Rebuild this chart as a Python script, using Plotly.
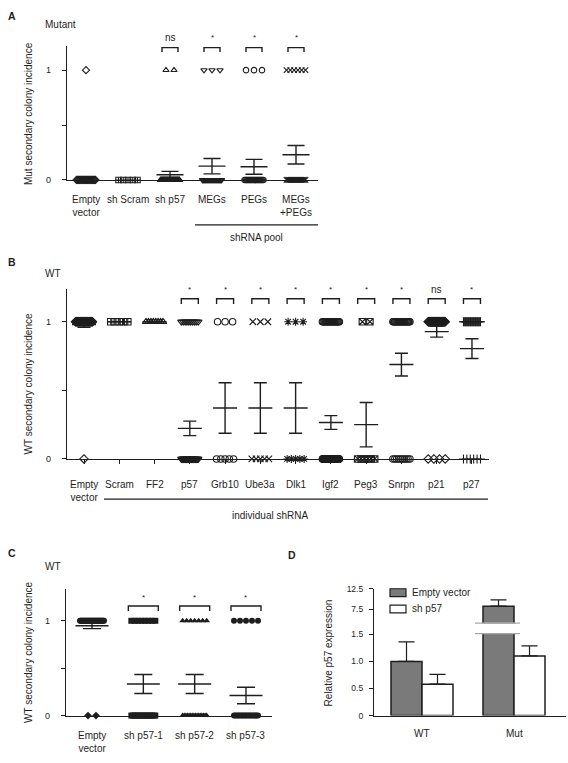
import plotly.graph_objects as go

W, H = 568, 763
def px(x): return x / W
def py(y): return 1 - y / H

FONT = "Liberation Sans, Arial, Helvetica, sans-serif"
INK = "#1e1e1e"

# ---------------- data ----------------
# Panel A (Mutant)
a_labels = ["Empty<br>vector", "sh Scram", "sh p57", "MEGs", "PEGs", "MEGs<br>+PEGs"]
a_n_one = [1, 0, 2, 3, 3, 6]
a_n_zero = [22, 5, 38, 21, 22, 20]
a_mean = [None, None, 0.048, 0.126, 0.12, 0.23]
a_sem = [None, None, 0.03, 0.07, 0.068, 0.084]
a_sig = ["", "", "ns", "*", "*", "*"]

# Panel B (WT, individual shRNA)
b_labels = ["Empty<br>vector", "Scram", "FF2", "p57", "Grb10", "Ube3a", "Dlk1",
            "Igf2", "Peg3", "Snrpn", "p21", "p27"]
b_n_one = [30, 5, 8, 10, 3, 3, 3, 21, 2, 22, 40, 25]
b_n_zero = [1, 0, 0, 35, 5, 5, 5, 58, 6, 10, 4, 6]
b_mean = [0.98, 1.0, 1.0, 0.223, 0.372, 0.372, 0.372, 0.266, 0.25, 0.688, 0.928, 0.804]
b_sem = [0.02, 0, 0, 0.053, 0.184, 0.184, 0.184, 0.05, 0.162, 0.083, 0.04, 0.072]
b_sig = ["", "", "", "*", "*", "*", "*", "*", "*", "*", "ns", "*"]

# Panel C (WT, sh p57 hairpins)
c_labels = ["Empty<br>vector", "sh p57-1", "sh p57-2", "sh p57-3"]
c_n_one = [40, 8, 7, 5]
c_n_zero = [2, 15, 16, 18]
c_mean = [0.948, 0.333, 0.333, 0.212]
c_sem = [0.031, 0.1, 0.1, 0.087]
c_sig = ["", "*", "*", "*"]

# Panel D (relative p57 expression)
d_groups = ["WT", "Mut"]
d_empty = [1.0, 8.3]
d_empty_sem = [0.36, 1.55]
d_shp57 = [0.58, 1.10]
d_shp57_sem = [0.18, 0.185]

# ---------------- styles ----------------
a_sym = ["diamond-open", "square-cross-open", "triangle-up-open", "triangle-down-open",
         "circle-open", "x-thin-open"]
b_sym = ["diamond-open", "square-cross-open", "triangle-up-open", "triangle-down-open",
         "circle-open", "x-thin-open", "asterisk-open", "circle-open", "square-x-open",
         "circle-open", "diamond-open", "cross-thin-open"]
c_sym_one = ["circle", "square", "triangle-up", "circle"]
c_sym_zero = ["diamond", "square", "triangle-up", "circle"]

fig = go.Figure()


def spread(n, step, maxw):
    if n <= 0:
        return []
    if n == 1:
        return [0.0]
    s = min(step, maxw / (n - 1))
    return [(k - (n - 1) / 2) * s for k in range(n)]


def add_dots(xa, ya, n_one, n_zero, sym_one, sym_zero, ppu, step, maxw, size):
    for i in range(len(n_one)):
        for level, n, sym in ((1, n_one[i], sym_one[i]), (0, n_zero[i], sym_zero[i])):
            offs = spread(n, step, maxw)
            if not offs:
                continue
            filled = not sym.endswith("open")
            fig.add_trace(go.Scatter(
                x=[i + o / ppu for o in offs], y=[level] * n, xaxis=xa, yaxis=ya,
                mode="markers", cliponaxis=False, hoverinfo="skip",
                marker=dict(symbol=sym, size=size, color=INK,
                            line=dict(color=INK, width=0 if filled else 1.1))))


def add_means(xa, ya, means, sems, ppu, mean_hw, cap_hw):
    xs, ys = [], []
    mh, ch = mean_hw / ppu, cap_hw / ppu
    for i, (m, s) in enumerate(zip(means, sems)):
        if m is None:
            continue
        xs += [i - mh, i + mh, None]
        ys += [m, m, None]
        if s:
            xs += [i, i, None, i - ch, i + ch, None, i - ch, i + ch, None]
            ys += [m - s, m + s, None, m + s, m + s, None, m - s, m - s, None]
    fig.add_trace(go.Scatter(x=xs, y=ys, xaxis=xa, yaxis=ya, mode="lines",
                             line=dict(color=INK, width=1.4), hoverinfo="skip"))


def add_brackets(xa, ya, sig, ppu, hw_px, y_top, y_leg, text_px):
    xs, ys = [], []
    h = hw_px / ppu
    for i, s in enumerate(sig):
        if not s:
            continue
        xs += [i - h, i - h, i + h, i + h, None]
        ys += [y_leg, y_top, y_top, y_leg, None]
        fig.add_annotation(x=i, y=py(text_px), xref=xa, yref="paper", text=s, showarrow=False,
                           yanchor="middle", xanchor="center",
                           font=dict(family=FONT, size=8 if s == "*" else 10, color=INK))
    fig.add_trace(go.Scatter(x=xs, y=ys, xaxis=xa, yaxis=ya, mode="lines",
                             line=dict(color=INK, width=1.4), hoverinfo="skip"))


def add_cat_labels(xa, labels, top_px):
    for i, t in enumerate(labels):
        fig.add_annotation(x=i, y=py(top_px), xref=xa, yref="paper", text=t,
                           showarrow=False, yanchor="top", xanchor="center",
                           font=dict(family=FONT, size=10, color=INK))


def text(x, y, t, size=10, bold=False, angle=0, xanchor="left"):
    fig.add_annotation(x=px(x), y=py(y), xref="paper", yref="paper",
                       text=f"<b>{t}</b>" if bold else t, showarrow=False,
                       textangle=angle, xanchor=xanchor, yanchor="middle",
                       font=dict(family=FONT, size=size, color=INK))


def hline(x0, x1, y, color=INK, width=1.3):
    fig.add_shape(type="line", xref="paper", yref="paper", x0=px(x0), x1=px(x1),
                  y0=py(y), y1=py(y), line=dict(color=color, width=width))


def xrange(left, right, first, spacing):
    return [-(first - left) / spacing, (right - first) / spacing]


def xaxis(left, right, rng, anchor, n, ticks=False):
    return dict(domain=[px(left), px(right)], range=rng, anchor=anchor, showline=True,
                linecolor=INK, linewidth=1.2, showgrid=False, zeroline=False,
                showticklabels=False, ticks="outside" if ticks else "", ticklen=4,
                tickwidth=1.2, tickcolor=INK, tickmode="array",
                tickvals=list(range(n)), fixedrange=True)


def yaxis(top, bot, rng, anchor, vals, txt, size=9, visible=True, standoff=9):
    return dict(domain=[py(bot), py(top)], range=rng, anchor=anchor, showline=visible,
                linecolor=INK, linewidth=1.2, showgrid=False, zeroline=False,
                ticks="outside", ticklen=4, tickwidth=1.2, tickcolor=INK,
                tickmode="array", tickvals=vals, ticktext=txt,
                tickfont=dict(family=FONT, size=size, color=INK),
                ticklabelstandoff=standoff, fixedrange=True)


# ---------------- Panel A ----------------
A_SP = 42.0
add_dots("x", "y", a_n_one, a_n_zero, a_sym, a_sym, A_SP, 8, 19, 5.5)
add_means("x", "y", a_mean, a_sem, A_SP, 13.5, 8.5)
add_brackets("x", "y", a_sig, A_SP, 8, 1.205, 1.165, 33)
add_cat_labels("x", a_labels, 189.5)

# ---------------- Panel B ----------------
B_SP = 35.27
add_dots("x2", "y2", b_n_one, b_n_zero, b_sym, b_sym, B_SP, 7.5, 17, 6.5)
add_means("x2", "y2", b_mean, b_sem, B_SP, 12, 6.5)
add_brackets("x2", "y2", b_sig, B_SP, 8.5, 1.168, 1.13, 288.5)
add_cat_labels("x2", b_labels, 478)

# ---------------- Panel C ----------------
C_SP = 51.33
add_dots("x3", "y3", c_n_one, c_n_zero, c_sym_one, c_sym_zero, C_SP, 8, 24, 6)
add_means("x3", "y3", c_mean, c_sem, C_SP, 16.5, 9)
add_brackets("x3", "y3", c_sig, C_SP, 15, 1.156, 1.104, 600.5)
add_cat_labels("x3", c_labels, 733)

# ---------------- Panel D ----------------
D_SP = 92.0
BW = 31 / D_SP
GREY = "#7a7a7a"
fig.add_trace(go.Bar(x=list(range(len(d_groups))), y=d_empty, xaxis="x4", yaxis="y4",
                     width=BW, offset=-BW, marker=dict(color=GREY, line=dict(color=INK, width=1.5)),
                     error_y=dict(type="data", symmetric=False,
                                  array=[d_empty_sem[0], None], arrayminus=[0, None],
                                  color=INK, thickness=1.2, width=8),
                     hoverinfo="skip"))
fig.add_trace(go.Bar(x=list(range(len(d_groups))), y=d_shp57, xaxis="x4", yaxis="y4",
                     width=BW, offset=0, marker=dict(color="white", line=dict(color=INK, width=1.5)),
                     error_y=dict(type="data", symmetric=False, array=d_shp57_sem,
                                  arrayminus=[0, 0], color=INK, thickness=1.2, width=8),
                     hoverinfo="skip"))
fig.add_trace(go.Bar(x=[1], y=[d_empty[1]], xaxis="x5", yaxis="y5",
                     width=BW, offset=-BW, marker=dict(color=GREY, line=dict(color=INK, width=1.5)),
                     error_y=dict(type="data", symmetric=False, array=[d_empty_sem[1]],
                                  arrayminus=[0], color=INK, thickness=1.2, width=8),
                     hoverinfo="skip"))
for i, g in enumerate(d_groups):
    fig.add_annotation(x=i, y=py(738), xref="x4", yref="paper", text=g, showarrow=False,
                       yanchor="middle", font=dict(family=FONT, size=10, color=INK))

# axis break on the Mut bar
fig.add_shape(type="rect", xref="x4", yref="paper", x0=0.61, x1=1.03, y0=py(636.5), y1=py(626.8),
              line=dict(width=0), fillcolor="white", layer="above")
for yb in (626.3, 637):
    fig.add_shape(type="line", xref="x4", yref="paper", x0=0.576, x1=1.065, y0=py(yb), y1=py(yb),
                  line=dict(color="#a8a8a8", width=1.3), layer="above")

# legend (D)
fig.add_shape(type="rect", xref="paper", yref="paper", x0=px(390), x1=px(406), y0=py(599.5), y1=py(591.5),
              fillcolor=GREY, line=dict(color=INK, width=1.2))
fig.add_shape(type="rect", xref="paper", yref="paper", x0=px(390), x1=px(406), y0=py(616), y1=py(608),
              fillcolor="white", line=dict(color=INK, width=1.2))
text(410, 595.5, "Empty vector")
text(410, 612, "sh p57")

# ---------------- panel texts ----------------
text(6, 11, "A", 10.5, bold=True)
text(43, 20, "Mutant")
text(28.5, 110, "Mut secondary colony incidence", angle=-90, xanchor="center")
hline(195, 318, 222.7)
text(256, 236, "shRNA pool", xanchor="center")

text(6, 260, "B", 10.5, bold=True)
text(43, 272, "WT")
text(28.5, 384, "WT secondary colony incidence", angle=-90, xanchor="center")
hline(104, 488, 500.7)
text(270, 517, "individual shRNA", xanchor="center")

text(6, 555, "C", 10.5, bold=True)
text(43, 569, "WT")
text(28.5, 656, "WT secondary colony incidence", angle=-90, xanchor="center")

text(286, 557, "D", 10.5, bold=True)
text(328.5, 656.5, "Relative p57 expression", angle=-90, xanchor="center")

# ---------------- layout ----------------
yt = [0, 0.5, 1]
ytt = ["0", "", "1"]
fig.update_layout(
    width=W, height=763, margin=dict(l=0, r=0, t=0, b=0),
    paper_bgcolor="white", plot_bgcolor="white", showlegend=False, barmode="overlay",
    font=dict(family=FONT, color=INK),
    xaxis=xaxis(67, 318, xrange(67, 318, 86, A_SP), "y", len(a_labels)),
    yaxis=yaxis(42, 177.3, [0, 1.216], "x", yt, ytt),
    xaxis2=xaxis(67, 489, xrange(67, 489, 84, B_SP), "y2", len(b_labels), ticks=True),
    yaxis2=yaxis(288, 460, [0, 1.237], "x2", yt, ytt),
    xaxis3=xaxis(66, 272, xrange(66, 272, 92, C_SP), "y3", len(c_labels)),
    yaxis3=yaxis(592, 720, [0, 1.333], "x3", yt, ytt),
    xaxis4=xaxis(374, 566, xrange(374, 566, 422, D_SP), "y4", 0),
    yaxis4=yaxis(626, 720, [0, 1.712], "x4", [0, 0.5, 1.0, 1.5], ["0", "0.5", "1.0", "1.5"], size=8.5, standoff=4),
    xaxis5=dict(xaxis(374, 566, xrange(374, 566, 422, D_SP), "y5", 0), showline=False),
    yaxis5=yaxis(591.7, 626, [4.26, 12.5], "x5", [7.5, 12.5], ["7.5", "12.5"], size=8.5, standoff=4),
)

fig.write_html("out.html", config={"displayModeBar": False},
               post_script="document.body.style.margin='0';document.body.style.overflow='hidden';")
